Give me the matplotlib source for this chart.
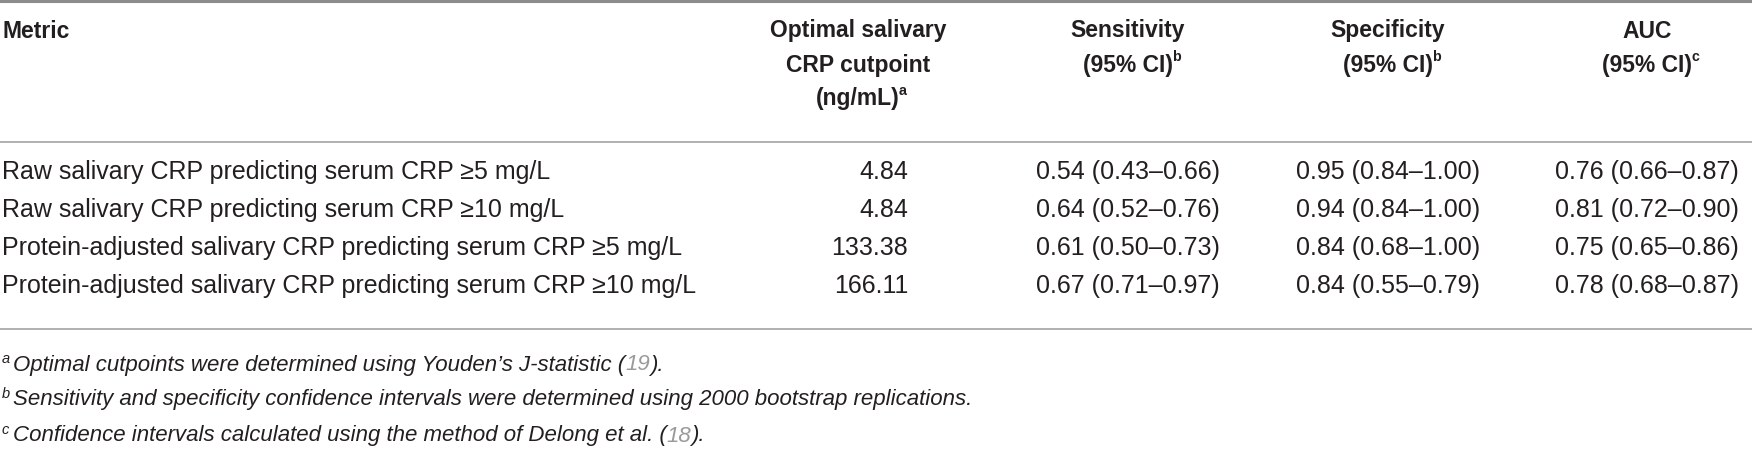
import matplotlib
matplotlib.use("Agg")
import matplotlib.pyplot as plt
from matplotlib import font_manager

# -------------------------------
# TABLE CONTENT
# -------------------------------
metrics = [
    "Raw salivary CRP predicting serum CRP \u22655 mg/L",
    "Raw salivary CRP predicting serum CRP \u226510 mg/L",
    "Protein-adjusted salivary CRP predicting serum CRP \u22655 mg/L",
    "Protein-adjusted salivary CRP predicting serum CRP \u226510 mg/L",
]
cutpoints = ["4.84", "4.84", "133.38", "166.11"]
sensitivity = ["0.54 (0.43\u20130.66)", "0.64 (0.52\u20130.76)",
               "0.61 (0.50\u20130.73)", "0.67 (0.71\u20130.97)"]
specificity = ["0.95 (0.84\u20131.00)", "0.94 (0.84\u20131.00)",
               "0.84 (0.68\u20131.00)", "0.84 (0.55\u20130.79)"]
auc = ["0.76 (0.66\u20130.87)", "0.81 (0.72\u20130.90)",
       "0.75 (0.65\u20130.86)", "0.78 (0.68\u20130.87)"]

headers = [
    (["Metric"], None),
    (["Optimal salivary", "CRP cutpoint", "(ng/mL)"], "a"),
    (["Sensitivity", "(95% CI)"], "b"),
    (["Specificity", "(95% CI)"], "b"),
    (["AUC", "(95% CI)"], "c"),
]

footnotes = [
    ("a", "Optimal cutpoints were determined using Youden\u2019s J-statistic (", "19", ")."),
    ("b", "Sensitivity and specificity confidence intervals were determined using 2000 bootstrap replications.", "", ""),
    ("c", "Confidence intervals calculated using the method of Delong et al. (", "18", ")."),
]

# -------------------------------
# LAYOUT (pixels)
# -------------------------------
W, H = 1752, 453
installed = {f.name for f in font_manager.fontManager.ttflist}
head_font = "Liberation Sans Narrow" if "Liberation Sans Narrow" in installed else "Liberation Sans"
head_size = 19.5 if head_font == "Liberation Sans Narrow" else 16.5
body_font = "Liberation Sans"
ink = "#231f20"

fig = plt.figure(figsize=(W / 100, H / 100), dpi=100)
renderer = fig.canvas.get_renderer()


def fy(y):
    return 1 - y / H


def fx(x):
    return x / W


def rule(y, lw, color):
    fig.add_artist(plt.Line2D([0, 1], [fy(y), fy(y)], lw=lw, color=color,
                              transform=fig.transFigure))


rule(1, 2.2, "#8c8c8c")
rule(142, 1.4, "#b0b0b0")
rule(329, 1.4, "#b0b0b0")

# headers
col_x = [2, 858, 1128, 1388, 1647]
head_y = [31, 65, 99]
for i, (lines, sup) in enumerate(headers):
    for j, line in enumerate(lines):
        ha = "left" if i == 0 else "center"
        t = fig.text(fx(col_x[i]), fy(head_y[j]), line, ha=ha, va="center",
                     family=head_font, weight="bold", size=head_size, color=ink)
        if sup and j == len(lines) - 1:
            bb = t.get_window_extent(renderer)
            fig.text(fx(bb.x1 - 1), fy(head_y[j] - 8), sup, ha="left", va="center",
                     family=head_font, weight="bold", size=head_size * 0.62, color=ink)

# body rows
row_y = [172, 210, 248, 286]
for r in range(len(metrics)):
    y = fy(row_y[r])
    fig.text(fx(2), y, metrics[r], ha="left", va="center",
             family=body_font, size=18, color=ink)
    fig.text(fx(908), y, cutpoints[r], ha="right", va="center",
             family=body_font, size=18, color=ink)
    fig.text(fx(1128), y, sensitivity[r], ha="center", va="center",
             family=body_font, size=18, color=ink)
    fig.text(fx(1388), y, specificity[r], ha="center", va="center",
             family=body_font, size=18, color=ink)
    fig.text(fx(1647), y, auc[r], ha="center", va="center",
             family=body_font, size=18, color=ink)

# footnotes
foot_y = [365, 400, 436]
foot_size = 16
for k, (mark, txt, ref, tail) in enumerate(footnotes):
    y = foot_y[k]
    fig.text(fx(2), fy(y - 6), mark, ha="left", va="center", style="italic",
             family=body_font, size=10.5, color=ink)
    x = 13
    for piece, col in [(txt, ink), (ref, "#9a9a9a"), (tail, ink)]:
        if not piece:
            continue
        t = fig.text(fx(x), fy(y), piece, ha="left", va="center", style="italic",
                     family=body_font, size=foot_size, color=col)
        x = t.get_window_extent(renderer).x1

fig.savefig("out.png", dpi=100)
